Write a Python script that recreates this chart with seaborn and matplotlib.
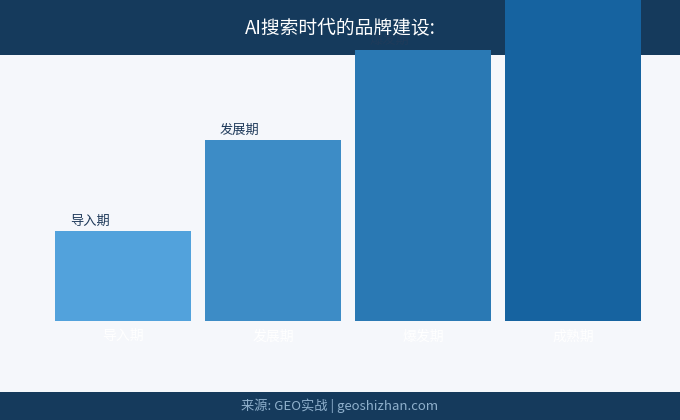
import matplotlib
matplotlib.use("Agg")
import matplotlib.pyplot as plt
import seaborn as sns
import pandas as pd
from matplotlib.patches import Rectangle

# data
stages = ["导入期", "发展期", "爆发期", "成熟期"]
values = [1, 2, 3, 4]
bar_colors = ["#52a2dc", "#3d8cc6", "#2a79b4", "#1663a0"]

title = "AI搜索时代的品牌建设:"
source = "来源: GEO实战 | geoshizhan.com"

sns.set_style("white")
plt.rcParams["font.family"] = ["Noto Sans CJK SC", "DejaVu Sans"]

navy = "#153a5c"
bg = "#f5f7fb"

fig = plt.figure(figsize=(6.8, 4.2), dpi=100, facecolor=bg)

# header and footer bands, behind the bars
fig.patches.append(Rectangle((0, 1 - 55 / 420), 1, 55 / 420, transform=fig.transFigure,
                             facecolor=navy, edgecolor="none", zorder=-5))
fig.patches.append(Rectangle((0, 0), 1, 28 / 420, transform=fig.transFigure,
                             facecolor=navy, edgecolor="none", zorder=-5))

ax = fig.add_axes([0, 99 / 420, 1, 321 / 420])
ax.patch.set_alpha(0)

df = pd.DataFrame({"stage": stages, "value": values})
sns.barplot(data=df, x="stage", y="value", hue="stage", palette=bar_colors,
            legend=False, width=136 / 150, saturation=1, linewidth=0, ax=ax)

ax.set_xlim(-123 / 150, (680 - 123) / 150)
ax.set_ylim(0, 321 / 90.5)
for s in ax.spines.values():
    s.set_visible(False)
ax.set_yticks([])
ax.set_xlabel("")
ax.set_ylabel("")
ax.tick_params(axis="x", length=0, pad=6, labelsize=10, labelcolor="white")

# labels above bars
for i, (name, v) in enumerate(zip(stages, values)):
    ax.text(i - 0.5 * 136 / 150 + 15 / 150, v + 3 / 90.5, name, ha="left", va="bottom",
            fontsize=9.5, color="#1f3a5a", clip_on=True)

fig.text(0.5, 1 - 28 / 420, title, ha="center", va="center", fontsize=13.5, color="white")
fig.text(0.5, 14 / 420, source, ha="center", va="center", fontsize=9.5, color="#8fb0cc")

fig.savefig("out.png", dpi=100, facecolor=bg)
